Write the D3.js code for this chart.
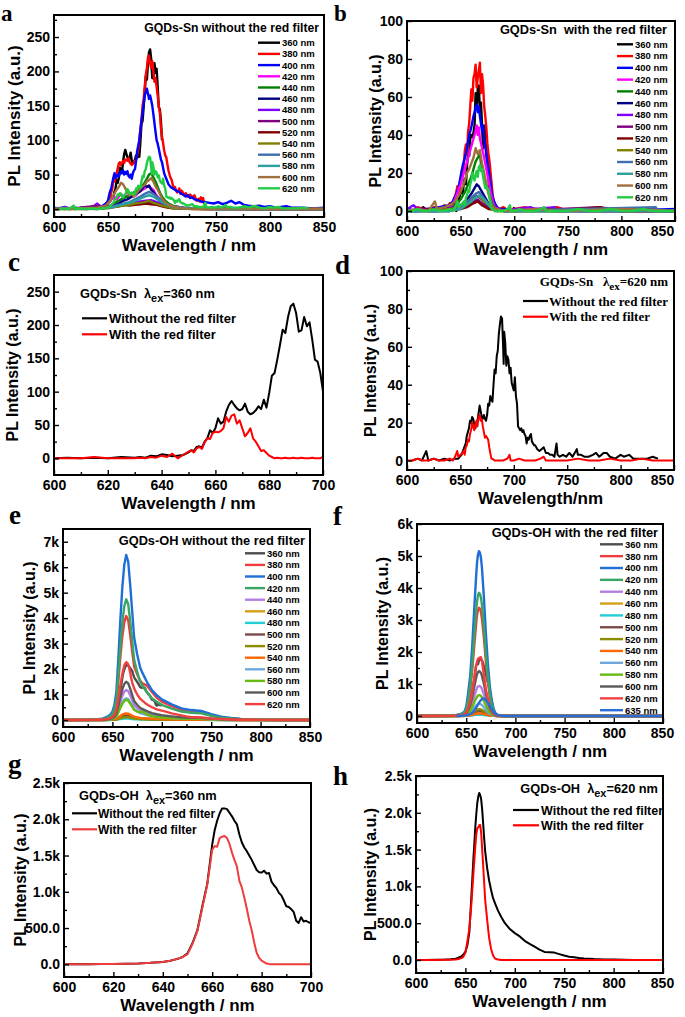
<!DOCTYPE html>
<html><head><meta charset="utf-8">
<script src="https://cdn.jsdelivr.net/npm/d3@7"></script>
<style>
body{margin:0;background:#fff}
svg{display:block}
text{font-weight:bold;fill:#000;white-space:pre}
</style></head><body>
<svg id="chart" width="685" height="1017" font-family="'Liberation Sans',Arial,sans-serif"></svg>
<script>
// ---------------- DATA ----------------
const exA = ["360 nm","380 nm","400 nm","420 nm","440 nm","460 nm","480 nm","500 nm","520 nm","540 nm","560 nm","580 nm","600 nm","620 nm"];
const exF = exA.concat(["635 nm"]);
const colorsA = ["#000000","#ff0000","#0000ff","#ff00ff","#008000","#000080","#8000ff","#800080","#800000","#808000","#3f6fb0","#2aa0a0","#a0703a","#22cc44"];
const colorsE = ["#4d4d4d","#f03c3c","#1f6fd8","#3aa563","#b47ee5","#d4a017","#22cfd6","#7b4a4a","#8c8c00","#ff6600","#6fa8dc","#66bb11","#5a5a5a","#f04040"];
const colorsF = colorsE.concat(["#2a6dd6"]);

// panel c (also 360 nm spectra of panels a and b)
const cWave = [600,605,610,615,620,625,630,632,634,636,638,640,642,644,646,648,650,651,652,653,654,655,656,657,658,659,660,661,662,663,664,665,666,667,668,669,670,671,672,673,674,675,676,677,678,679,680,681,682,683,684,685,686,687,688,689,690,691,692,693,694,695,696,697,698,699,700];
const cBlack = [0,1,0,1,0,2,1,2,1,4,3,6,5,3,4,5,9,12,11,17,18,16,25,30,42,38,45,60,52,55,70,80,86,80,75,72,74,82,70,66,68,72,78,74,88,76,98,124,128,148,170,193,188,212,228,232,218,190,192,212,198,204,178,148,145,128,100];
const cRed = [0,0,0,2,0,0,0,1,0,2,1,4,2,7,0,5,10,12,9,15,17,14,24,30,29,38,40,39,41,45,62,55,64,66,52,57,45,33,38,45,30,25,18,11,12,8,4,2,0,1,0,0,1,0,0,1,0,0,1,0,0,0,1,0,0,0,2];

// panel d (also 620 nm spectra of panels a and b)
const dBlack = [[605,0],[610,1],[614,0],[618,5],[620,0],[625,1],[630,0],[635,1],[640,0],[645,1],[648,1],[651,3],[653,6],[655,9],[656,13],[658,17],[659,21],[660,20],[661,23],[662,22],[663,19],[664,17],[665,20],[666,21],[667,25],[668,29],[669,26],[670,23],[671,22],[672,24],[673,22],[674,21],[675,24],[676,30],[677,29],[678,34],[679,32],[680,31],[681,40],[682,48],[683,46],[684,55],[685,58],[686,67],[687,72],[688,76],[689,75],[690,60],[690.5,51],[691,68],[692,62],[693,50],[694,55],[695,53],[696,46],[697,49],[698,41],[699,39],[700,37],[701,44],[702,34],[703,30],[704,18],[705,17],[706,16],[707,17],[708,15],[709,16],[710,14],[711,13],[712,9],[713,12],[714,11],[715,13],[716,14],[717,10],[718,9],[719,8],[720,8],[722,6],[724,5],[726,6],[728,7],[730,4],[732,4],[734,3],[736,3],[738,2],[740,9],[741,3],[743,2],[746,3],[749,2],[752,4],[755,2],[759,6],[760,3],[763,3],[766,2],[770,2],[774,3],[777,4],[780,2],[784,4],[787,4],[790,2],[795,1],[800,3],[803,2],[808,3],[812,1],[816,1],[820,1],[825,1],[830,2],[835,1]];
const dRed = [[600,0],[605,0],[610,1],[615,0],[620,0],[625,1],[630,0],[635,0],[640,1],[643,0],[645,2],[647,5],[648,2],[650,3],[652,4],[653,5],[654,3],[655,7],[656,8],[657,11],[658,10],[659,14],[660,16],[661,20],[662,18],[663,16],[664,19],[665,21],[666,18],[667,23],[668,24],[669,21],[670,22],[671,18],[672,15],[673,12],[674,13],[675,12],[676,11],[677,7],[678,4],[679,1],[680,1],[682,0],[685,0],[690,0],[694,1],[696,3],[697,0],[700,0],[705,1],[710,0],[715,0],[720,0],[725,1],[728,2],[730,0],[740,0],[750,0],[760,1],[770,0],[780,0],[790,1],[800,0],[810,0],[820,1],[830,0],[840,0],[850,0]];

// panel a (other excitations)
const a380 = [[600,1],[615,0],[630,2],[640,1],[645,3],[648,5],[650,8],[652,18],[654,30],[655,42],[656,40],[658,52],[660,66],[661,68],[662,64],[664,70],[665,67],[666,72],[668,70],[669,74],[670,68],[672,64],[674,67],[675,70],[676,72],[678,85],[679,100],[680,115],[681,130],[682,150],[683,160],[684,178],[685,195],[686,205],[687,220],[688,223],[689,212],[690,205],[691,215],[692,200],[693,185],[694,190],[695,178],[696,165],[697,150],[698,140],[699,118],[700,105],[701,96],[702,85],[703,78],[704,75],[705,65],[706,56],[707,50],[708,45],[709,42],[710,35],[711,30],[712,32],[713,27],[714,24],[715,26],[716,30],[717,22],[718,27],[719,25],[720,20],[722,23],[724,18],[726,21],[728,17],[730,20],[732,12],[734,15],[735,11],[736,17],[737,10],[738,16],[739,9],[740,12]];
const a400 = [[600,2],[605,1],[610,3],[615,0],[620,2],[625,1],[630,3],[635,2],[640,4],[644,3],[646,6],[648,8],[650,12],[651,20],[652,26],[653,30],[654,38],[655,46],[656,52],[657,45],[658,48],[659,50],[660,47],[661,52],[662,55],[663,52],[664,56],[665,50],[666,54],[667,51],[668,55],[669,48],[670,46],[671,50],[672,44],[673,52],[674,56],[675,58],[676,70],[677,84],[678,92],[679,100],[680,115],[681,128],[682,140],[683,152],[684,165],[685,170],[686,175],[687,168],[688,160],[689,165],[690,158],[691,150],[692,138],[693,125],[694,112],[695,100],[696,95],[697,88],[698,80],[699,72],[700,68],[701,60],[702,52],[703,48],[704,44],[705,40],[706,36],[707,34],[708,32],[710,30],[712,28],[714,26],[716,25],[718,22],[720,21],[722,18],[724,20],[726,16],[728,17],[730,14],[733,13],[736,11],[740,10],[744,9],[748,8],[752,10],[756,7],[760,9],[764,12],[768,8],[772,10],[776,6],[780,5],[785,4],[790,5],[795,3],[800,4],[805,2],[810,3],[815,4],[820,2],[830,2],[840,1],[850,2]];
const a420 = [[600,1],[610,2],[620,1],[630,2],[638,4],[640,6],[642,3],[645,2],[648,5],[650,8],[652,12],[654,15],[656,18],[658,14],[660,18],[662,22],[664,18],[666,21],[668,17],[670,20],[672,18],[674,22],[676,20],[678,24],[680,26],[682,28],[684,30],[686,32],[688,34],[690,30],[692,28],[694,22],[696,18],[698,14],[700,10],[703,7],[706,5],[710,4],[715,3],[720,2],[730,1],[740,2],[750,1],[760,2],[770,1],[780,1],[800,1],[820,0],[850,1]];
const a440 = [[600,0],[620,1],[640,1],[648,2],[652,5],[656,8],[660,12],[664,16],[668,18],[672,22],[676,26],[680,30],[683,36],[686,44],[688,50],[690,52],[692,46],[694,40],[696,32],[698,24],[700,18],[703,12],[706,8],[710,5],[715,3],[720,2],[730,1],[750,1],[780,0],[850,0]];
const a460 = [[600,0],[620,1],[640,0],[650,2],[655,4],[660,8],[664,12],[668,14],[672,18],[676,22],[680,26],[682,30],[684,35],[686,32],[688,34],[690,28],[692,25],[694,20],[696,16],[698,12],[700,9],[704,5],[708,3],[712,2],[720,1],[740,0],[780,0],[850,0]];
const a480 = [[600,1],[620,1],[636,3],[640,8],[642,5],[645,2],[650,3],[656,5],[660,6],[665,7],[670,9],[675,10],[680,11],[685,12],[690,13],[695,10],[700,7],[705,4],[710,2],[720,1],[740,1],[760,1],[780,0],[850,0]];
const a500 = [[600,0],[620,1],[640,5],[643,3],[650,2],[656,4],[660,5],[665,6],[670,7],[675,8],[680,9],[685,10],[690,10],[695,8],[700,6],[705,3],[710,2],[720,1],[750,0],[850,0]];
const a520 = [[600,0],[630,1],[650,2],[655,3],[660,4],[665,6],[670,5],[675,6],[680,7],[685,8],[690,7],[695,6],[700,4],[705,2],[710,1],[730,0],[850,0]];
const a540 = [[600,0],[630,0],[650,1],[656,3],[660,4],[665,5],[670,6],[675,8],[680,9],[684,10],[688,12],[692,9],[696,7],[700,5],[705,3],[710,1],[730,0],[850,0]];
const a560 = [[600,1],[630,0],[650,2],[656,4],[660,6],[665,8],[670,10],[675,14],[680,18],[684,22],[688,25],[692,22],[696,17],[700,12],[705,7],[710,4],[720,2],[740,1],[800,0],[850,0]];
const a580 = [[600,0],[630,1],[650,2],[656,3],[660,5],[665,7],[670,9],[675,12],[680,15],[684,18],[688,20],[692,18],[696,14],[700,10],[705,6],[710,3],[720,1],[750,0],[850,0]];
const a600 = [[600,0],[620,1],[640,2],[648,5],[652,12],[655,20],[658,28],[660,32],[662,38],[664,36],[666,30],[668,24],[670,20],[672,22],[674,18],[676,22],[678,26],[680,30],[682,33],[684,35],[686,40],[688,42],[690,45],[692,40],[694,33],[696,28],[698,22],[700,15],[703,10],[706,6],[710,4],[715,2],[720,1],[740,0],[760,1],[800,0],[850,0]];

// panel b (other excitations)
const b380 = [[600,1],[605,0],[610,2],[615,1],[620,0],[625,2],[630,1],[635,3],[638,2],[640,4],[642,3],[644,6],[646,10],[647,13],[648,9],[649,12],[650,16],[651,21],[652,18],[653,25],[654,32],[655,35],[656,30],[657,42],[658,46],[659,55],[660,64],[661,58],[662,70],[663,72],[664,77],[665,65],[666,70],[667,74],[668,78],[669,62],[670,72],[671,66],[672,55],[673,50],[674,44],[675,35],[676,30],[677,26],[678,20],[679,14],[680,8],[681,5],[682,3],[684,2],[686,1],[690,2],[695,0],[700,1],[710,2],[720,0],[730,1],[740,2],[750,0],[760,1],[780,1],[800,0],[820,1],[850,0]];
const b400 = [[600,1],[610,0],[620,1],[630,2],[640,3],[644,6],[646,9],[648,12],[650,18],[652,24],[654,28],[656,33],[658,40],[660,44],[662,50],[664,54],[665,56],[666,52],[667,55],[668,50],[669,46],[670,42],[671,45],[672,38],[673,34],[674,30],[675,26],[676,22],[677,18],[678,14],[679,10],[680,7],[682,4],[684,2],[686,1],[690,1],[700,0],[720,1],[740,0],[760,1],[800,0],[850,1]];
const b420 = [[600,0],[620,1],[630,0],[640,2],[644,5],[646,8],[648,11],[650,14],[652,18],[654,22],[656,26],[658,30],[660,34],[662,38],[664,42],[665,45],[666,40],[667,44],[668,38],[669,36],[670,33],[672,28],[674,22],[676,16],[678,10],[680,5],[682,2],[685,1],[690,0],[720,1],[760,0],[850,0]];
const b440 = [[600,0],[640,1],[645,3],[650,6],[654,10],[657,14],[660,18],[662,22],[664,26],[666,28],[668,30],[669,25],[670,22],[672,18],[674,14],[676,10],[678,6],[680,3],[683,1],[690,0],[760,0],[850,0]];
const b460 = [[600,0],[640,0],[648,2],[652,4],[656,6],[660,9],[663,12],[665,14],[667,13],[669,11],[671,9],[674,6],[677,3],[680,1],[690,0],[850,0]];
const b480 = [[600,1],[606,3],[610,1],[630,1],[645,2],[650,3],[655,4],[660,6],[665,8],[670,6],[675,3],[680,1],[690,0],[715,2],[720,1],[738,2],[740,0],[850,0]];
const b500 = [[600,0],[620,1],[640,1],[650,2],[656,3],[662,5],[666,6],[670,4],[675,2],[680,1],[700,0],[781,2],[783,0],[805,1],[850,0]];
const b520 = [[600,0],[630,1],[650,1],[656,2],[662,4],[666,5],[670,3],[676,1],[690,0],[760,1],[780,2],[800,0],[850,0]];
const b540 = [[600,0],[620,0],[640,1],[650,2],[656,4],[660,6],[664,7],[667,8],[670,6],[674,4],[678,2],[682,0],[850,0]];
const b560 = [[600,0],[640,0],[650,2],[655,4],[660,7],[664,9],[667,10],[670,8],[674,5],[678,2],[682,1],[690,0],[832,2],[834,0],[850,0]];
const b580 = [[600,0],[640,0],[650,1],[655,3],[660,5],[664,7],[667,8],[670,7],[674,5],[678,2],[682,1],[690,0],[850,0]];
const b600 = [[600,0],[610,1],[620,0],[626,5],[628,1],[635,2],[640,3],[645,5],[648,8],[650,10],[652,13],[654,16],[656,20],[658,22],[660,25],[662,28],[664,33],[666,30],[668,32],[670,25],[672,20],[674,14],[676,9],[678,5],[680,2],[683,1],[690,0],[720,1],[740,0],[800,1],[850,0]];

// panel g (also 360 nm spectra of panels e and f)
const gWave = [600,605,610,615,620,625,630,635,640,643,646,648,650,652,654,656,658,660,661,662,663,664,665,666,667,668,669,670,671,672,673,674,675,676,677,678,679,680,681,682,683,684,685,686,687,688,689,690,691,692,693,694,695,696,697,698,699,700];
const gBlack = [0,0,2,3,5,8,12,20,32,50,75,100,150,290,470,800,1110,1650,1850,1980,2080,2150,2150,2140,2090,2040,1980,1930,1790,1680,1610,1560,1500,1440,1370,1300,1270,1265,1290,1250,1260,1140,1090,1050,985,950,880,800,790,760,720,600,570,650,590,600,580,570];
const gRed = [0,0,2,3,5,8,12,20,32,50,75,100,140,280,460,780,1100,1580,1630,1620,1740,1760,1770,1740,1660,1540,1440,1350,1150,1060,920,770,600,470,300,160,90,50,30,10,5,2,0,0,0,0,0,0,0,0,0,0,0,0,0,0,0,0];

// panel h (also 620 nm spectra of panels e and f)
const hWave = [600,610,620,630,635,640,643,646,648,650,652,654,656,658,660,661,662,663,664,665,666,667,668,669,670,672,674,676,678,680,683,686,690,695,700,705,710,715,720,725,730,735,740,745,750,755,760,765,770,780,790,800,810,820,830,840,850];
const hBlack = [0,0,2,5,10,18,30,50,75,110,200,380,850,1350,1800,1980,2130,2220,2270,2240,2180,2040,1850,1650,1480,1250,1080,950,840,770,670,590,500,420,365,320,260,220,180,140,110,105,100,80,60,45,38,28,20,12,8,5,3,1,0,0,0];
const hRed = [0,0,0,2,4,8,14,25,45,100,250,430,750,1150,1540,1700,1790,1800,1830,1834,1720,1500,1280,1050,820,550,300,150,60,20,5,0,0,0,0,0,0,0,0,0,0,0,0,0,0,0,0,0,0,0,0,0,0,0,0,0,0];

// panel e (other excitations)
const eWave = [600,630,640,645,648,650,652,654,656,658,660,662,664,666,668,670,672,675,678,680,685,690,695,700,710,720,730,740,750,760,770,780,790,800,820,850];
const e380 = [0,8,33,82,135,204,367,694,1510,2448,3264,3835,4080,3917,3346,2693,2100,1800,1550,1450,1350,1100,870,720,540,400,320,290,180,100,60,35,20,10,5,0];
const e400 = [0,13,52,130,214,324,583,1100,2400,3890,5180,6090,6480,6220,5310,4280,3240,2590,2070,1880,1490,1170,970,810,615,455,390,356,227,130,78,45,26,13,6,0];
const e420 = [0,9,38,95,156,237,427,806,1754,2844,3792,4456,4740,4550,3887,3128,2370,1896,1517,1375,1090,853,711,593,450,332,284,261,166,95,57,33,19,9,5,0];
const e440 = [0,2,9,24,39,59,106,200,437,708,944,1109,1180,1133,968,779,590,472,378,342,271,212,177,148,112,83,71,65,41,24,14,8,5,2,1,0];
const e460 = [0,0,2,4,7,11,20,37,81,132,176,207,220,211,180,145,110,88,70,64,51,40,33,28,21,15,13,12,8,4,3,2,1,0,0,0];
const e480 = [0,0,0,1,2,3,5,10,22,36,48,56,60,58,49,40,30,24,19,17,14,11,9,8,6,4,4,3,2,1,1,0,0,0,0,0];
const e500 = [0,0,1,3,6,9,15,29,63,102,136,160,170,163,139,112,85,68,54,49,39,31,26,21,16,12,10,9,6,3,2,1,1,0,0,0];
const e520 = [0,0,1,2,4,6,10,19,41,66,88,103,110,106,90,73,55,44,35,32,25,20,17,14,10,8,7,6,4,2,1,1,0,0,0,0];
const e540 = [0,1,2,5,9,13,23,44,96,156,208,244,260,250,213,172,130,104,83,75,60,47,39,33,25,18,16,14,9,5,3,2,1,1,0,0];
const e560 = [0,2,7,17,28,43,77,145,315,510,680,800,850,816,697,561,425,340,272,247,196,153,128,106,81,60,51,47,30,17,10,6,3,2,1,0];
const e580 = [0,2,6,16,26,40,71,134,292,474,632,743,790,758,648,521,400,330,300,340,220,150,119,99,75,55,47,43,28,16,9,6,3,2,1,0];
const e600 = [0,3,12,30,50,75,135,255,555,900,1200,1410,1500,1440,1230,990,750,600,480,435,345,270,225,188,143,105,90,83,53,30,18,11,6,3,2,0];

// panel f (other excitations)
const fWave = [600,630,640,645,648,650,652,654,656,658,660,661,662,663,664,665,666,668,670,672,674,676,678,680,682,685,690,700,750,800,850];
const f380 = [0,3,14,41,85,186,473,811,1386,2129,2839,3143,3312,3380,3346,3245,3042,2434,1690,1082,608,304,135,51,20,7,0,0,0,0,0];
const f400 = [0,5,21,62,129,283,721,1236,2112,3245,4326,4790,5047,5150,5099,4944,4635,3708,2575,1648,927,464,206,77,31,10,0,0,0,0,0];
const f420 = [0,4,15,46,96,212,539,924,1579,2426,3234,3581,3773,3850,3812,3696,3465,2772,1925,1232,693,347,154,58,23,8,0,0,0,0,0];
const f440 = [0,1,4,11,24,52,132,226,385,592,790,874,921,940,931,902,846,677,470,301,169,85,38,14,6,2,0,0,0,0,0];
const f460 = [0,0,0,1,3,6,15,26,45,69,92,102,108,110,109,106,99,79,55,35,20,10,4,2,1,0,0,0,0,0,0];
const f480 = [0,0,0,0,1,2,6,10,16,25,34,37,39,40,40,38,36,29,20,13,7,4,2,1,0,0,0,0,0,0,0];
const f500 = [0,0,1,2,4,9,22,38,66,101,134,149,157,160,158,154,144,115,80,51,29,14,6,2,1,0,0,0,0,0,0];
const f520 = [0,0,1,3,5,12,29,50,86,132,176,195,206,210,208,202,189,151,105,67,38,19,8,3,1,0,0,0,0,0,0];
const f540 = [0,0,0,1,2,4,11,19,33,50,67,74,78,80,79,77,72,58,40,26,14,7,3,1,0,0,0,0,0,0,0];
const f560 = [0,0,2,5,10,21,53,91,156,239,319,353,372,380,376,365,342,274,190,122,68,34,15,6,2,1,0,0,0,0,0];
const f580 = [0,1,3,8,16,36,91,156,267,410,546,605,637,650,644,624,585,468,325,208,117,59,26,10,4,1,0,0,0,0,0];
const f600 = [0,1,6,17,35,77,196,336,574,882,1176,1302,1372,1400,1386,1344,1260,1008,700,448,252,126,56,21,8,3,0,0,0,0,0];
const f635Wave = [640,645,650,653,656,658,660,662,664,666,667,668,670,672,674,676,678,680,683,686,690,700,750,800,850];
const f635 = [0,5,20,45,90,160,250,360,460,530,550,545,500,420,320,210,120,60,20,5,0,0,0,0,0];

// tick values
const xTicks850 = [600,650,700,750,800,850];
const xMinor850 = [625,675,725,775,825];
const xTicks700 = [600,620,640,660,680,700];
const xMinor700 = [610,630,650,670,690];

// ---------------- DRAWING ----------------
const svg = d3.select("#chart");
const SANS = "'Liberation Sans',Arial,sans-serif";
const SERIF = "'Liberation Serif','Times New Roman',serif";
const z = (w,v) => d3.zip(w,v);

function panel(o){
  const x = d3.scaleLinear().domain(o.xd).range([o.l,o.r]);
  const y = d3.scaleLinear().domain(o.yd).range([o.b,o.t]);
  svg.append("clipPath").attr("id","cp"+o.id).append("rect")
    .attr("x",o.l).attr("y",o.t).attr("width",o.r-o.l).attr("height",o.b-o.t);
  const line = d3.line().x(d=>x(d[0])).y(d=>y(d[1]));
  const lg = svg.append("g").attr("clip-path",`url(#cp${o.id})`);
  o.series.forEach(s=>{
    lg.append("path").datum(s.data).attr("d",line).attr("fill","none")
      .attr("stroke",s.color).attr("stroke-width",o.lw).attr("stroke-linejoin","round");
  });
  const style = g=>{ g.select(".domain").remove(); g.attr("font-size",14).attr("font-family",SANS);
    g.selectAll("line").attr("stroke-width",1.4); };
  svg.append("g").attr("transform",`translate(0,${o.b})`)
    .call(d3.axisBottom(x).tickValues(o.xm).tickSize(-3).tickFormat("")).call(style);
  svg.append("g").attr("transform",`translate(${o.l},0)`)
    .call(d3.axisLeft(y).tickValues(o.ym).tickSize(-3).tickFormat("")).call(style);
  const xg = svg.append("g").attr("transform",`translate(0,${o.b})`)
    .call(d3.axisBottom(x).tickValues(o.xt).tickSize(-5).tickPadding(5).tickFormat(d3.format("d"))).call(style);
  if (o.r > 660) xg.selectAll(".tick:last-of-type text").attr("dx", -(o.r-662));
  svg.append("g").attr("transform",`translate(${o.l},0)`)
    .call(d3.axisLeft(y).tickValues(o.yt).tickSize(-5).tickPadding(4).tickFormat(o.yf)).call(style);
  svg.append("rect").attr("x",o.l).attr("y",o.t).attr("width",o.r-o.l).attr("height",o.b-o.t)
    .attr("fill","none").attr("stroke","#000").attr("stroke-width",2);
  svg.append("text").attr("x",(o.l+o.r)/2).attr("y",o.b+34).attr("text-anchor","middle")
    .attr("font-size",17).text(o.xl || "Wavelength / nm");
  svg.append("text").attr("transform",`translate(${o.yx},${(o.t+o.b)/2}) rotate(-90)`)
    .attr("text-anchor","middle").attr("dy","0.35em").attr("font-size",o.yfs||16).text("PL Intensity (a.u.)");
  svg.append("text").attr("x",o.lx).attr("y",o.ly).attr("font-family",SERIF).attr("font-size",o.lfs||27).text(o.letter);
}

function legend(labels, colors, o){
  labels.forEach((t,i)=>{
    const yy = o.y0 + i*o.dy;
    svg.append("line").attr("x1",o.x1).attr("x2",o.x2).attr("y1",yy).attr("y2",yy)
      .attr("stroke",colors[i]).attr("stroke-width",o.lw);
    svg.append("text").attr("x",o.tx).attr("y",yy).attr("dy","0.36em")
      .attr("font-size",o.fs).attr("font-family",o.font||SANS).text(t);
  });
}

function title(txt, x, y, anchor, fs, font){
  svg.append("text").attr("x",x).attr("y",y).attr("text-anchor",anchor)
    .attr("font-size",fs).attr("font-family",font||SANS).text(txt);
}
function lamTitle(pre, post, x, y, anchor, fs, font){
  const t = svg.append("text").attr("x",x).attr("y",y).attr("text-anchor",anchor)
    .attr("font-size",fs).attr("font-family",font||SANS);
  t.append("tspan").text(pre + "λ");
  t.append("tspan").attr("dy",4).attr("font-size",fs*0.85).text("ex");
  t.append("tspan").attr("dy",-4).text(post);
}

const fmtK = d => d===0 ? "0" : (d/1000)+"k";
const fmtK1 = d => d===0 ? "0.0" : d<1000 ? d.toFixed(1) : (d/1000).toFixed(1)+"k";

// ---- a ----
const aData = [z(cWave,cBlack),a380,a400,a420,a440,a460,a480,a500,a520,a540,a560,a580,a600,dBlack];
panel({id:"a",l:54,t:15,r:324,b:217,xd:[600,850],yd:[-11.6,282],xt:xTicks850,xm:xMinor850,
  yt:[0,50,100,150,200,250],ym:[25,75,125,175,225,275],yf:d3.format("d"),lw:2.4,
  series:aData.map((d,i)=>({data:d,color:colorsA[i]})),yx:14,yfs:17,letter:"a",lx:1,ly:21,lfs:23});
title("GQDs-Sn without the red filter",319,32,"end",12.2);
legend(exA,colorsA,{x1:258,x2:280,tx:282,y0:42.7,dy:11.2,fs:9.5,lw:2.4});

// ---- b ----
const bData = [z(cWave,cRed),b380,b400,b420,b440,b460,b480,b500,b520,b540,b560,b580,b600,dRed];
panel({id:"b",l:407,t:21,r:675,b:221,xd:[600,850],yd:[-5.3,100],xt:xTicks850,xm:xMinor850,
  yt:[0,20,40,60,80,100],ym:[10,30,50,70,90],yf:d3.format("d"),lw:2.4,
  series:bData.map((d,i)=>({data:d,color:colorsA[i]})),yx:375,letter:"b",lx:334,ly:21,lfs:23});
title("GQDs-Sn  with the red filter",667,34,"end",12.8);
legend(exA,colorsA,{x1:617,x2:633,tx:635,y0:44.3,dy:11.77,fs:9.5,lw:2.4});

// ---- c ----
panel({id:"c",l:54,t:275,r:323,b:475,xd:[600,700],yd:[-25,275],xt:xTicks700,xm:xMinor700,
  yt:[0,50,100,150,200,250],ym:[25,75,125,175,225],yf:d3.format("d"),lw:2,
  series:[{data:z(cWave,cBlack),color:"#000"},{data:z(cWave,cRed),color:"#ff0000"}],yx:12.5,letter:"c",lx:8,ly:271});
lamTitle("GQDs-Sn  ","=360 nm",80,298,"start",12.8);
legend(["Without the red filter","With the red filter"],["#000","#ff0000"],{x1:82,x2:107,tx:109,y0:318.3,dy:16,fs:13,lw:2.2});

// ---- d ----
panel({id:"d",l:407,t:271,r:674,b:470,xd:[600,850],yd:[-5,100],xt:xTicks850,xm:xMinor850,
  yt:[0,20,40,60,80,100],ym:[10,30,50,70,90],yf:d3.format("d"),lw:2,
  series:[{data:dBlack,color:"#000"},{data:dRed,color:"#ff0000"}],yx:370,xl:"Wavelength/nm",letter:"d",lx:335,ly:274});
lamTitle("GQDs-Sn   ","=620 nm",668,286,"end",13,SERIF);
legend(["Without the red filter","With the red filter"],["#000","#ff0000"],{x1:523,x2:548,tx:549,y0:301,dy:15.7,fs:13,lw:2.2,font:SERIF});

// ---- e ----
const eData = [z(gWave,gBlack),z(eWave,e380),z(eWave,e400),z(eWave,e420),z(eWave,e440),z(eWave,e460),z(eWave,e480),
  z(eWave,e500),z(eWave,e520),z(eWave,e540),z(eWave,e560),z(eWave,e580),z(eWave,e600),z(hWave,hBlack)];
panel({id:"e",l:63,t:529,r:310,b:727,xd:[600,850],yd:[-275,7500],xt:xTicks850,xm:xMinor850,
  yt:[0,1000,2000,3000,4000,5000,6000,7000],ym:[500,1500,2500,3500,4500,5500,6500],yf:fmtK,lw:2.4,
  series:eData.map((d,i)=>({data:d,color:colorsE[i]})),yx:29.5,letter:"e",lx:9,ly:524});
title("GQDs-OH without the red filter",305,545,"end",12.8);
legend(exA,colorsE,{x1:245,x2:265,tx:267,y0:553.3,dy:11.6,fs:9.5,lw:2.4});

// ---- f ----
const fData = [z(gWave,gRed),z(fWave,f380),z(fWave,f400),z(fWave,f420),z(fWave,f440),z(fWave,f460),z(fWave,f480),
  z(fWave,f500),z(fWave,f520),z(fWave,f540),z(fWave,f560),z(fWave,f580),z(fWave,f600),z(hWave,hRed),z(f635Wave,f635)];
panel({id:"f",l:417,t:524,r:663,b:723,xd:[600,850],yd:[-220,6000],xt:xTicks850,xm:xMinor850,
  yt:[0,1000,2000,3000,4000,5000,6000],ym:[500,1500,2500,3500,4500,5500],yf:fmtK,lw:2.4,
  series:fData.map((d,i)=>({data:d,color:colorsF[i]})),yx:382.5,letter:"f",lx:333,ly:525});
title("GQDs-OH with the red filter",658,536.7,"end",12.8);
legend(exF,colorsF,{x1:600,x2:623,tx:625,y0:544.3,dy:11.85,fs:9.5,lw:2.4});

// ---- g ----
panel({id:"g",l:64,t:783,r:311,b:977,xd:[600,700],yd:[-175,2500],xt:xTicks700,xm:xMinor700,
  yt:[0,500,1000,1500,2000,2500],ym:[250,750,1250,1750,2250],yf:fmtK1,lw:2,
  series:[{data:z(gWave,gBlack),color:"#000"},{data:z(gWave,gRed),color:"#f03c3c"}],yx:20.5,letter:"g",lx:8,ly:773});
lamTitle("GQDs-OH  ","=360 nm",79,800,"start",12.8);
legend(["Without the red filter","With the red filter"],["#000","#f03c3c"],{x1:72,x2:97,tx:98,y0:813.3,dy:16,fs:12,lw:2.2});

// ---- h ----
panel({id:"h",l:416,t:776,r:663,b:973,xd:[600,850],yd:[-177,2500],xt:xTicks850,xm:xMinor850,
  yt:[0,500,1000,1500,2000,2500],ym:[250,750,1250,1750,2250],yf:fmtK1,lw:2,
  series:[{data:z(hWave,hBlack),color:"#000"},{data:z(hWave,hRed),color:"#ff0000"}],yx:370.5,letter:"h",lx:333,ly:785});
lamTitle("GQDs-OH  ","=620 nm",658,793,"end",12.8);
legend(["Without the red filter","With the red filter"],["#000","#ff0000"],{x1:513,x2:539,tx:541,y0:810,dy:15.3,fs:12.5,lw:2.2});
</script></body></html>
